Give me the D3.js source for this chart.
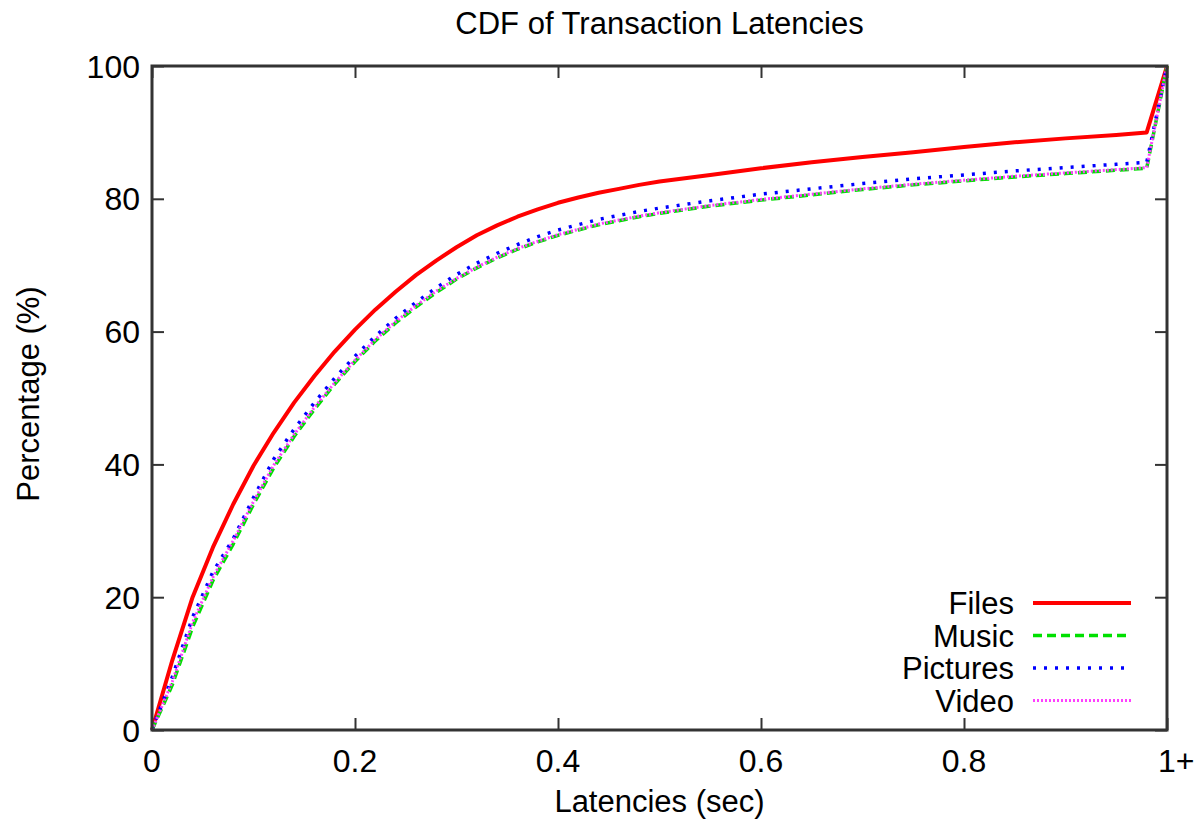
<!DOCTYPE html>
<html>
<head>
<meta charset="utf-8">
<title>CDF of Transaction Latencies</title>
<script src="https://d3js.org/d3.v7.min.js"></script>
<style>
  html, body { margin: 0; padding: 0; background: #fff; }
  svg text { font-family: "Liberation Sans", Arial, Helvetica, sans-serif; fill: #000; }
</style>
</head>
<body>
<script>
// latency sample points (sec), the last point is the "1+" bucket
var latency = [0, 0.02, 0.04, 0.06, 0.08, 0.10, 0.12, 0.14, 0.16, 0.18, 0.20, 0.22, 0.24, 0.26, 0.28, 0.30,
               0.32, 0.34, 0.36, 0.38, 0.40, 0.42, 0.44, 0.46, 0.48, 0.50, 0.55, 0.60, 0.65, 0.70, 0.75,
               0.80, 0.85, 0.90, 0.95, 0.98, 1.0];

var files    = [0, 10.5, 20, 27.5, 34, 39.8, 44.8, 49.3, 53.3, 57, 60.3, 63.3, 66, 68.5, 70.7, 72.7,
                74.5, 76, 77.3, 78.4, 79.4, 80.2, 80.9, 81.5, 82.1, 82.6, 83.6, 84.6, 85.5, 86.3, 87.0,
                87.8, 88.5, 89.1, 89.6, 90, 100];
var music    = [0, 6.8, 15.5, 22.5, 28, 34, 39.5, 44.2, 48.3, 52.1, 55.5, 58.6, 61.3, 63.7, 65.9, 67.9,
                69.6, 71.1, 72.4, 73.5, 74.5, 75.3, 76.1, 76.7, 77.3, 77.8, 78.9, 79.8, 80.6, 81.4, 82.1,
                82.7, 83.3, 83.8, 84.3, 84.6, 100];
var pictures = [0, 8, 17, 23.8, 28.8, 35, 40.8, 45.3, 49.3, 53, 56.3, 59.3, 62, 64.4, 66.6, 68.6,
                70.3, 71.8, 73.1, 74.3, 75.3, 76.1, 76.9, 77.5, 78.1, 78.6, 79.7, 80.7, 81.5, 82.3, 83,
                83.6, 84.2, 84.7, 85.2, 85.5, 100];
var video    = [0, 7.3, 16.2, 23, 28.5, 34.4, 39.9, 44.5, 48.6, 52.3, 55.7, 58.8, 61.5, 63.9, 66.1, 68,
                69.7, 71.2, 72.5, 73.6, 74.6, 75.4, 76.2, 76.8, 77.4, 77.9, 79, 79.9, 80.7, 81.5, 82.2,
                82.8, 83.4, 83.9, 84.4, 84.7, 100];

var seriesNames = ["Files", "Music", "Pictures", "Video"];
var xTicks = [0, 0.2, 0.4, 0.6, 0.8, 1];
var xTickLabels = ["0", "0.2", "0.4", "0.6", "0.8", "1+"];
var yTicks = [0, 20, 40, 60, 80, 100];

var W = 1204, H = 821;
var margin = {top: 66, right: 37, bottom: 91, left: 152};
var width = W - margin.left - margin.right,
    height = H - margin.top - margin.bottom;

var svg = d3.select("body").append("svg")
    .attr("width", W).attr("height", H);

var g = svg.append("g")
    .attr("transform", "translate(" + margin.left + "," + margin.top + ")");

var x = d3.scaleLinear().domain([0, 1]).range([0, width]);
var y = d3.scaleLinear().domain([0, 100]).range([height, 0]);

var styles = [
  {color: "#ff0000", w: 4, dash: null},
  {color: "#00e000", w: 3.5, dash: "9,5"},
  {color: "#0000ff", w: 3.5, dash: "3,8"},
  {color: "#ff40ff", w: 3, dash: "2,2"}
];
var allSeries = [files, music, pictures, video];

// ticks on all four sides, pointing inward
var tickLen = 12;
var frameColor = "#333";
g.append("g").call(d3.axisBottom(x).tickValues(xTicks).tickSize(-tickLen).tickFormat(""))
  .attr("transform", "translate(0," + height + ")");
g.append("g").call(d3.axisTop(x).tickValues(xTicks).tickSize(-tickLen).tickFormat(""));
g.append("g").call(d3.axisLeft(y).tickValues(yTicks).tickSize(-tickLen).tickFormat(""));
g.append("g").call(d3.axisRight(y).tickValues(yTicks).tickSize(-tickLen).tickFormat(""))
  .attr("transform", "translate(" + width + ",0)");
g.selectAll(".domain").remove();
g.selectAll(".tick line").attr("stroke", frameColor).attr("stroke-width", 2);

// tick labels
g.selectAll(".xlab").data(xTicks).enter().append("text")
  .attr("x", function(d, i) { return i === xTicks.length - 1 ? x(d) - 9 : x(d); })
  .attr("y", height + 42)
  .attr("text-anchor", function(d, i) { return i === xTicks.length - 1 ? "start" : "middle"; })
  .style("font-size", "32px")
  .text(function(d, i) { return xTickLabels[i]; });

g.selectAll(".ylab").data(yTicks).enter().append("text")
  .attr("x", -12)
  .attr("y", function(d) { return y(d); })
  .attr("dy", "0.36em")
  .attr("text-anchor", "end")
  .style("font-size", "32px")
  .text(function(d) { return d; });

// curves
var line = d3.line()
  .x(function(d, i) { return x(latency[i]); })
  .y(function(d) { return y(d); });

allSeries.forEach(function(s, k) {
  g.append("path")
    .datum(s)
    .attr("fill", "none")
    .attr("stroke", styles[k].color)
    .attr("stroke-width", styles[k].w)
    .attr("stroke-dasharray", styles[k].dash)
    .attr("stroke-linejoin", "round")
    .attr("d", line);
});

// frame
g.append("rect")
  .attr("width", width).attr("height", height)
  .attr("fill", "none").attr("stroke", frameColor).attr("stroke-width", 3);

// legend
var legend = g.append("g");
seriesNames.forEach(function(name, k) {
  var ly = 537 + k * 32.5;
  legend.append("text")
    .attr("x", 862).attr("y", ly).attr("dy", "0.36em")
    .attr("text-anchor", "end")
    .style("font-size", "31px")
    .text(name);
  legend.append("line")
    .attr("x1", 881).attr("x2", 979)
    .attr("y1", ly).attr("y2", ly)
    .attr("stroke", styles[k].color)
    .attr("stroke-width", styles[k].w)
    .attr("stroke-dasharray", styles[k].dash);
});

// title and axis labels
svg.append("text")
  .attr("x", margin.left + width / 2).attr("y", 34)
  .attr("text-anchor", "middle")
  .style("font-size", "31px")
  .text("CDF of Transaction Latencies");

svg.append("text")
  .attr("x", margin.left + width / 2).attr("y", 812)
  .attr("text-anchor", "middle")
  .style("font-size", "31px")
  .text("Latencies (sec)");

svg.append("text")
  .attr("transform", "translate(39," + 394 + ") rotate(-90)")
  .attr("text-anchor", "middle")
  .style("font-size", "31px")
  .text("Percentage (%)");
</script>
</body>
</html>
